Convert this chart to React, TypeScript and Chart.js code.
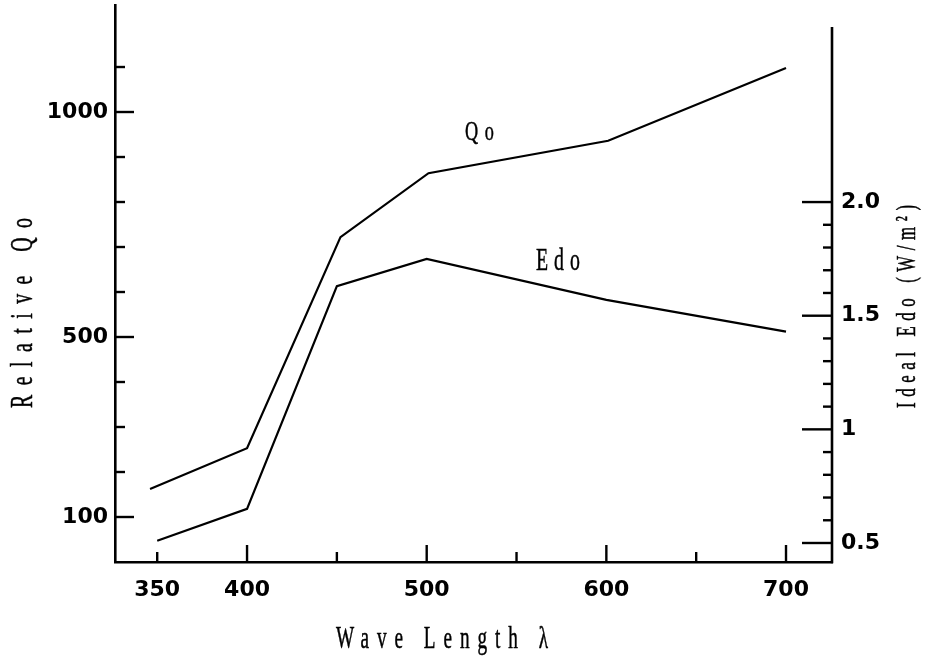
import { useEffect, useRef } from "react";
import { Chart, registerables } from "chart.js";

Chart.register(...registerables);

// ---- data ----
const qoWavelengths = [346, 400, 452, 501, 601, 700];
const qoValues = [162, 253, 722, 864, 936, 1098];
const edoWavelengths = [350, 400, 450, 500, 600, 700];
const edoValues = [0.51, 0.65, 1.63, 1.75, 1.57, 1.43];

// ---- ticks ----
const xTickValues = [350, 400, 450, 500, 550, 600, 650, 700];
const xTickLabels = ["350", "400", "", "500", "", "600", "", "700"];
const xMajorTicks = [400, 500, 600, 700];

const qoTickValues = [100, 200, 300, 400, 500, 600, 700, 800, 900, 1000, 1100];
const qoTickLabels = ["100", "", "", "", "500", "", "", "", "", "1000", ""];
const qoMajorTicks = [100, 500, 1000];

const edoTickValues = [0.5, 0.6, 0.7, 0.8, 0.9, 1, 1.1, 1.2, 1.3, 1.4, 1.5, 1.6, 1.7, 1.8, 1.9, 2.0];
const edoTickLabels = ["0.5", "", "", "", "", "1", "", "", "", "", "1.5", "", "", "", "", "2.0"];
const edoMajorTicks = [0.5, 1, 1.5, 2.0];

// axis ranges
const xMin = 326.5;
const xMax = 725.6;
const qoMin = 0;
const qoMax = 1237.8;
const edoMin = 0.4164;
const edoMax = 2.867;
const edoAxisTop = 2.77;

// titles / annotations
const xTitle = "Wave Length λ";
const qoTitle = "Relative Qo";
const edoTitle = "Ideal Edo (W/m²)";
const qoLabel = "Qo";
const edoLabel = "Edo";
const qoLabelPos = { x: 521.3, y: 938 };
const edoLabelPos = { x: 560.8, y: 1.701 };

const TITLE_FONT = "Liberation Serif";

function drawFitted(
  ctx: CanvasRenderingContext2D,
  text: string,
  startX: number,
  baseY: number,
  targetWidth: number,
  fontSize: number,
  sx: number,
  rotate: boolean
) {
  ctx.save();
  ctx.font = `${fontSize}px "${TITLE_FONT}"`;
  (ctx as any).letterSpacing = "0px";
  const natural = ctx.measureText(text).width;
  const n = Array.from(text).length;
  const ls = n > 1 ? (targetWidth / sx - natural) / (n - 1) : 0;
  ctx.translate(startX, baseY);
  if (rotate) ctx.rotate(-Math.PI / 2);
  ctx.scale(sx, 1);
  (ctx as any).letterSpacing = `${ls}px`;
  ctx.fillStyle = "#000";
  ctx.strokeStyle = "#000";
  ctx.lineWidth = 0.5;
  ctx.textAlign = "left";
  ctx.textBaseline = "alphabetic";
  ctx.fillText(text, 0, 0);
  ctx.strokeText(text, 0, 0);
  ctx.restore();
}

const decorations = {
  id: "decorations",
  afterDraw(chart: any) {
    const { ctx, chartArea, scales } = chart;
    const x = scales.x;
    const y = scales.y;
    const y1 = scales.y1;
    ctx.save();
    ctx.strokeStyle = "#000";
    ctx.lineCap = "butt";
    const line = (x1: number, y1p: number, x2: number, y2: number) => {
      ctx.beginPath();
      ctx.moveTo(x1, y1p);
      ctx.lineTo(x2, y2);
      ctx.stroke();
    };
    ctx.lineWidth = 2.4;
    x.ticks.forEach((t: any) => {
      const px = x.getPixelForValue(t.value);
      const len = xMajorTicks.includes(t.value) ? 17 : 10;
      line(px, chartArea.bottom, px, chartArea.bottom - len);
    });
    y.ticks.forEach((t: any) => {
      const py = y.getPixelForValue(t.value);
      const len = qoMajorTicks.includes(t.value) ? 19 : 10;
      line(chartArea.left, py, chartArea.left + len, py);
    });
    y1.ticks.forEach((t: any) => {
      const py = y1.getPixelForValue(t.value);
      const len = edoMajorTicks.includes(t.value) ? 30 : 9;
      line(chartArea.right, py, chartArea.right - len, py);
    });
    ctx.lineWidth = 2.6;
    line(chartArea.right, y1.getPixelForValue(edoAxisTop), chartArea.right, chartArea.bottom + 1.3);

    // axis titles
    drawFitted(ctx, xTitle, 336, 648, 212, 31, 0.62, false);
    drawFitted(ctx, qoTitle, 32, 408, 190, 32, 0.62, true);
    drawFitted(ctx, edoTitle, 915, 408, 203, 28, 0.6, true);

    // series annotations
    drawFitted(
      ctx,
      qoLabel,
      x.getPixelForValue(qoLabelPos.x),
      y.getPixelForValue(qoLabelPos.y),
      29,
      28,
      0.65,
      false
    );
    drawFitted(
      ctx,
      edoLabel,
      x.getPixelForValue(edoLabelPos.x),
      y1.getPixelForValue(edoLabelPos.y),
      44,
      32,
      0.62,
      false
    );
    ctx.restore();
  },
};

const tickFont = { family: "DejaVu Sans", size: 22, weight: "bold" as const };

export default function App() {
  const canvasRef = useRef<HTMLCanvasElement | null>(null);

  useEffect(() => {
    document.body.style.margin = "0";
    const canvas = canvasRef.current;
    if (!canvas) return;
    const chart = new Chart(canvas, {
      type: "line",
      data: {
        datasets: [
          {
            label: qoLabel,
            data: qoWavelengths.map((w, i) => ({ x: w, y: qoValues[i] })),
            yAxisID: "y",
            borderColor: "#000",
            borderWidth: 2.2,
            pointRadius: 0,
            tension: 0,
            fill: false,
          },
          {
            label: edoLabel,
            data: edoWavelengths.map((w, i) => ({ x: w, y: edoValues[i] })),
            yAxisID: "y1",
            borderColor: "#000",
            borderWidth: 2.2,
            pointRadius: 0,
            tension: 0,
            fill: false,
          },
        ],
      },
      options: {
        responsive: false,
        animation: false,
        devicePixelRatio: 1,
        layout: { padding: { top: 5, left: 0, right: 0, bottom: 0 } },
        plugins: {
          legend: { display: false },
          tooltip: { enabled: false },
        },
        scales: {
          x: {
            type: "linear",
            position: "bottom",
            min: xMin,
            max: xMax,
            afterBuildTicks: (s: any) => {
              s.ticks = xTickValues.map((v) => ({ value: v }));
            },
            afterFit: (s: any) => {
              s.height = 96;
              s.paddingLeft = 0;
              s.paddingRight = 0;
            },
            ticks: {
              autoSkip: false,
              maxRotation: 0,
              padding: 15,
              color: "#000",
              font: tickFont,
              callback: (_v: any, i: number) => xTickLabels[i],
            },
            grid: { display: false, drawTicks: false, tickLength: 0 },
            border: { display: true, color: "#000", width: 2.6 },
          },
          y: {
            type: "linear",
            position: "left",
            min: qoMin,
            max: qoMax,
            afterBuildTicks: (s: any) => {
              s.ticks = qoTickValues.map((v) => ({ value: v }));
            },
            afterFit: (s: any) => {
              s.width = 115;
              s.paddingTop = 0;
              s.paddingBottom = 0;
            },
            ticks: {
              autoSkip: false,
              padding: 7,
              color: "#000",
              font: tickFont,
              callback: (_v: any, i: number) => qoTickLabels[i],
            },
            grid: { display: false, drawTicks: false, tickLength: 0 },
            border: { display: true, color: "#000", width: 2.6 },
          },
          y1: {
            type: "linear",
            position: "right",
            min: edoMin,
            max: edoMax,
            afterBuildTicks: (s: any) => {
              s.ticks = edoTickValues.map((v) => ({ value: v }));
            },
            afterFit: (s: any) => {
              s.width = 98;
              s.paddingTop = 0;
              s.paddingBottom = 0;
            },
            ticks: {
              autoSkip: false,
              padding: 9,
              color: "#000",
              font: tickFont,
              callback: (_v: any, i: number) => edoTickLabels[i],
            },
            grid: { display: false, drawTicks: false, tickLength: 0 },
            border: { display: false },
          },
        },
      },
      plugins: [decorations],
    });
    return () => chart.destroy();
  }, []);

  return (
    <div style={{ width: 930, height: 658, background: "#fff" }}>
      <canvas ref={canvasRef} width={930} height={658} style={{ display: "block" }} />
    </div>
  );
}
